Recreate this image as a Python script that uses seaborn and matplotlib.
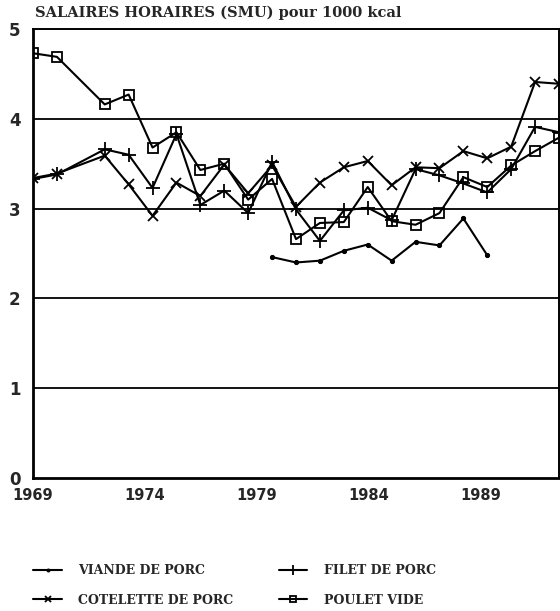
import numpy as np
import matplotlib
matplotlib.use("Agg")
import matplotlib.pyplot as plt
import seaborn as sns
import pandas as pd

# years (1971 missing in the source)
years = [1969, 1970, 1972, 1973, 1974, 1975, 1976, 1977, 1978, 1979, 1980,
         1981, 1982, 1983, 1984, 1985, 1986, 1987, 1988, 1989, 1990, 1991]

viande_porc = [np.nan, np.nan, np.nan, np.nan, np.nan, np.nan, np.nan, np.nan, np.nan,
               2.46, 2.40, 2.42, 2.53, 2.60, 2.42, 2.63, 2.59, 2.89, 2.48,
               np.nan, np.nan, np.nan]
cotelette_porc = [3.34, 3.39, 3.59, 3.27, 2.92, 3.29, 3.14, 3.49, 3.17, 3.48, 3.02,
                  3.29, 3.46, 3.53, 3.26, 3.46, 3.45, 3.64, 3.56, 3.69, 4.41, 4.39]
filet_porc = [3.33, 3.38, 3.66, 3.60, 3.23, 3.83, 3.04, 3.20, 2.95, 3.52, 2.99,
              2.64, 2.98, 3.01, 2.87, 3.44, 3.37, 3.28, 3.18, 3.44, 3.91, 3.85]
poulet_vide = [4.73, 4.69, 4.16, 4.27, 3.68, 3.85, 3.43, 3.50, 3.10, 3.33, 2.66,
               2.84, 2.85, 3.24, 2.86, 2.82, 2.95, 3.35, 3.24, 3.48, 3.64, 3.79]

labels = ["VIANDE DE PORC", "COTELETTE DE PORC", "FILET DE PORC", "POULET VIDE"]
tick_labels = ["1969", "1974", "1979", "1984", "1989"]

sns.set_style("white")
plt.rcParams["font.family"] = ["DejaVu Sans"]

fig = plt.figure(figsize=(5.6, 6.11), dpi=100)
ax = fig.add_axes([33 / 560, 1 - 478 / 611, 526 / 560, 449 / 611])

series = [viande_porc, cotelette_porc, filet_porc, poulet_vide]
styles = [dict(marker="o", markersize=3),
          dict(marker="x", markersize=7, markeredgewidth=1.3),
          dict(marker="+", markersize=10, markeredgewidth=1.3),
          dict(marker="s", markersize=6.5, fillstyle="none", markeredgewidth=1.3)]

for vals, lab, st in zip(series, labels, styles):
    df = pd.DataFrame({"annee": years, "valeur": vals}).dropna()
    sns.lineplot(data=df, x="annee", y="valeur", ax=ax, color="black",
                 linewidth=1.5, label=lab, markeredgecolor="black", **st)

ax.set_xlim(1969, 1991)
ax.set_ylim(0, 5)
for y in [1, 2, 3, 4]:
    ax.axhline(y, color="black", linewidth=1.3, zorder=0)

# the tick marks in the source are spaced slightly tighter than the points
step = 22.4 / 23.9
minor_pos = [1969 + k * step for k in range(22)]
major_pos = [1969 + k * 5 * step for k in range(5)]
ax.set_xticks(major_pos)
ax.set_xticklabels(tick_labels, fontsize=10.5, fontweight="bold")
ax.set_xticks(minor_pos, minor=True)
ax.tick_params(axis="x", which="major", direction="inout", length=12, width=1.3, pad=1)
ax.tick_params(axis="x", which="minor", direction="in", length=5, width=1.2)
ax.set_yticks([0, 1, 2, 3, 4, 5])
ax.set_yticklabels(["0", "1", "2", "3", "4", "5"], fontsize=12, fontweight="bold")
ax.tick_params(axis="y", length=0, pad=9)
ax.set_xlabel("")
ax.set_ylabel("")

for side in ["left", "bottom"]:
    ax.spines[side].set_linewidth(2)
for side in ["top", "right"]:
    ax.spines[side].set_linewidth(1.4)
for sp in ax.spines.values():
    sp.set_color("black")

ax.get_legend().remove()
handles, labs = ax.get_legend_handles_labels()
fig.legend(handles, labs, ncol=2, frameon=False, loc="upper left",
           bbox_to_anchor=(22 / 560, 1 - 553 / 611), markerscale=0.7,
           prop={"family": "DejaVu Serif", "weight": "bold", "size": 9},
           handlelength=2.3, handletextpad=1.3, columnspacing=3.6, labelspacing=1.3)

fig.text(35 / 560, 1 - 13 / 611, "SALAIRES HORAIRES (SMU) pour 1000 kcal",
         fontsize=10.5, fontweight="bold", family="DejaVu Serif", va="center")

fig.savefig("out.png", dpi=100)
